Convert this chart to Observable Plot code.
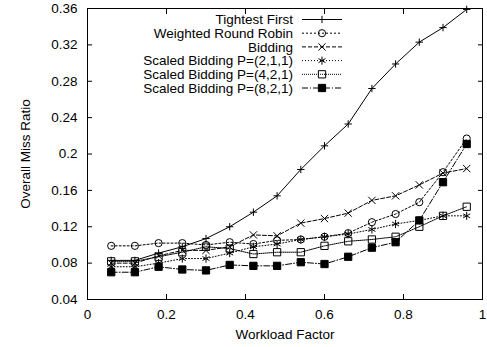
<!DOCTYPE html>
<html><head><meta charset="utf-8">
<script src="https://cdn.jsdelivr.net/npm/d3@7"></script>
<script src="https://cdn.jsdelivr.net/npm/@observablehq/plot@0.6"></script>
<style>body{margin:0;background:#fff} #chart{width:487px;height:347px}</style>
</head><body><div id="chart"></div>
<script>
const workload = [0.06,0.12,0.18,0.24,0.30,0.36,0.42,0.48,0.54,0.60,0.66,0.72,0.78,0.84,0.90,0.96];
const seriesNames = ["Tightest First","Weighted Round Robin","Bidding","Scaled Bidding P=(2,1,1)","Scaled Bidding P=(4,2,1)","Scaled Bidding P=(8,2,1)"];
const tightestFirst = [0.083,0.083,0.091,0.098,0.107,0.120,0.136,0.154,0.183,0.209,0.233,0.272,0.299,0.323,0.339,0.359];
const weightedRR   = [0.099,0.099,0.102,0.102,0.100,0.103,0.101,0.105,0.106,0.109,0.113,0.125,0.134,0.147,0.180,0.217];
const bidding      = [0.080,0.080,0.088,0.094,0.094,0.098,0.111,0.110,0.124,0.129,0.135,0.149,0.154,0.166,0.179,0.184];
const scaled211    = [0.076,0.076,0.080,0.085,0.085,0.091,0.098,0.101,0.106,0.109,0.112,0.117,0.123,0.127,0.132,0.132];
const scaled421    = [0.082,0.082,0.087,0.092,0.098,0.096,0.090,0.092,0.092,0.099,0.104,0.106,0.109,0.120,0.132,0.142];
const scaled821    = [0.070,0.070,0.076,0.073,0.072,0.078,0.077,0.077,0.081,0.079,0.087,0.097,0.103,0.127,0.169,0.211];
const seriesValues = [tightestFirst, weightedRR, bidding, scaled211, scaled421, scaled821];
const xTicks = [0,0.2,0.4,0.6,0.8,1];
const yTicks = [0.04,0.08,0.12,0.16,0.2,0.24,0.28,0.32,0.36];

const symbols = ["plus","circle","times","asterisk","square","square"];
const radii   = [2.5,3.6,3.4,3.8,4.1,4.1];
const fills   = ["none","none","none","none","none","black"];
const dashes  = [null,"2,2","4,2","1,2","1,1","6,2,1,2"];

const rows = [];
seriesNames.forEach((s,i) => workload.forEach((x,j) => rows.push({series:s, idx:i, x, y:seriesValues[i][j]})));

const font = "'Liberation Sans', Arial, Helvetica, sans-serif";
const marks = [];
seriesNames.forEach((s,i) => {
  const d = rows.filter(r => r.idx === i);
  marks.push(Plot.line(d, {x:"x", y:"y", stroke:"black", strokeWidth:1, strokeDasharray: dashes[i] || undefined}));
  marks.push(Plot.dot(d, {x:"x", y:"y", symbol: symbols[i], r: radii[i], stroke:"black", strokeWidth:1, fill: fills[i]}));
});

const plot = Plot.plot({
  width: 487, height: 347,
  marginLeft: 87, marginRight: 5, marginTop: 8, marginBottom: 48,
  style: {fontFamily: font, fontSize: "13.5px", background: "#fff", color: "black"},
  x: {domain: [0,1]},
  y: {domain: [0.04,0.36]},
  marks: [
    Plot.axisX({anchor:"bottom", ticks:xTicks, tickSize:0, tickPadding:10, tickFormat:d=>String(d), fontSize:13.5,
      label:"Workload Factor", labelAnchor:"center", labelArrow:"none", labelOffset:39}),
    Plot.axisY({anchor:"left", ticks:yTicks, tickSize:0, tickPadding:10, tickFormat:d=>String(d), fontSize:13.5,
      label:"Overall Miss Ratio", labelAnchor:"center", labelArrow:"none", labelOffset:67}),
    Plot.axisX({anchor:"bottom", ticks:xTicks, tickSize:-5, tickFormat:()=>"", label:null}),
    Plot.axisX({anchor:"top", ticks:xTicks, tickSize:-5, tickFormat:()=>"", label:null}),
    Plot.axisY({anchor:"left", ticks:yTicks, tickSize:-5, tickFormat:()=>"", label:null}),
    Plot.axisY({anchor:"right", ticks:yTicks, tickSize:-5, tickFormat:()=>"", label:null}),
    ...marks,
    Plot.frame({stroke:"black", strokeWidth:1})
  ]
});
document.getElementById("chart").appendChild(plot);

// legend (top-left inside the frame)
const svg = d3.select(plot);
const lg = svg.append("g").attr("font-family", font).attr("font-size", 13.5);
const d3sym = {plus:d3.symbolPlus, circle:d3.symbolCircle, times:d3.symbolTimes, asterisk:d3.symbolAsterisk, square:d3.symbolSquare};
seriesNames.forEach((s,i) => {
  const cy = 19.5 + i*13.7;
  lg.append("text").attr("x",293).attr("y",cy).attr("dy","0.35em").attr("text-anchor","end").text(s);
  lg.append("line").attr("x1",302).attr("x2",342).attr("y1",cy).attr("y2",cy)
    .attr("stroke","black").attr("stroke-dasharray", dashes[i]);
  lg.append("path").attr("transform",`translate(322,${cy})`)
    .attr("d", d3.symbol(d3sym[symbols[i]], Math.PI*radii[i]*radii[i])())
    .attr("stroke","black").attr("fill",fills[i]);
});
</script></body></html>
